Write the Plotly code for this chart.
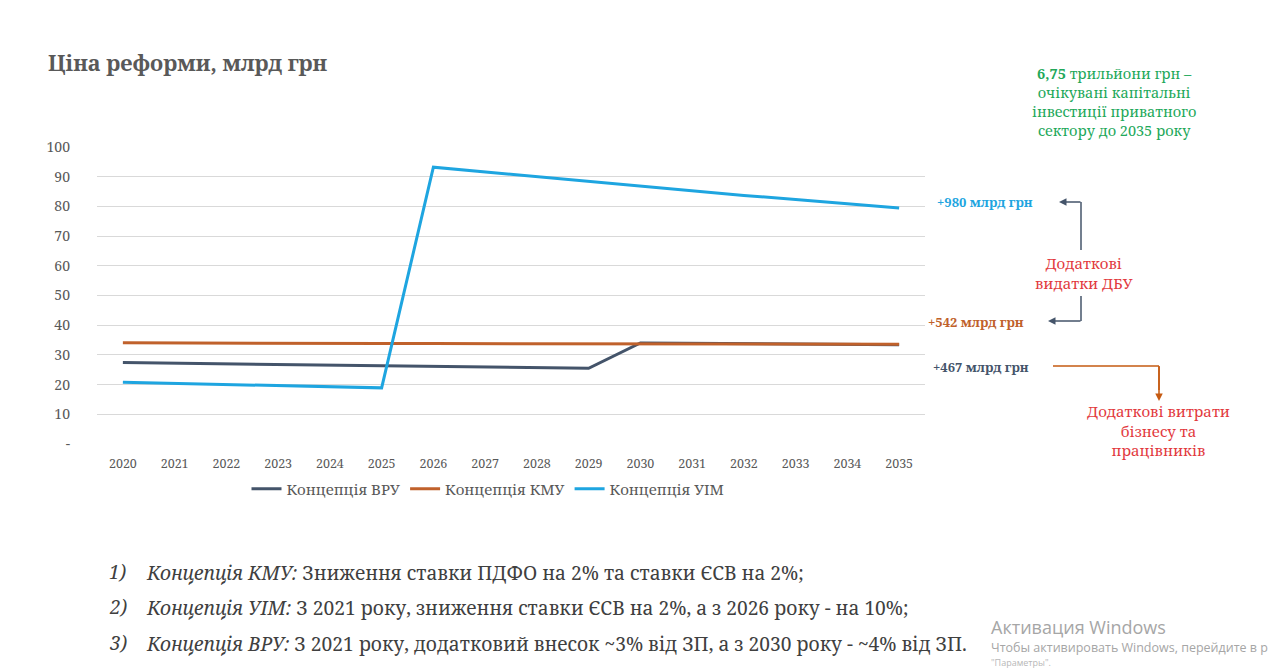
import plotly.graph_objects as go

years = [str(y) for y in range(2020, 2036)]
vru = [27.4, 27.2, 27.0, 26.8, 26.5, 26.3, 26.1, 25.9, 25.7, 25.5, 34.0, 33.9, 33.8, 33.6, 33.5, 33.4]
kmu = [34.1, 34.0, 34.0, 33.9, 33.9, 33.8, 33.8, 33.8, 33.7, 33.7, 33.7, 33.7, 33.6, 33.6, 33.6, 33.6]
uim = [20.8, 20.4, 20.0, 19.6, 19.3, 18.9, 93.2, 91.6, 90.0, 88.4, 86.9, 85.3, 83.7, 82.3, 80.9, 79.5]
series_names = ["Концепція ВРУ", "Концепція КМУ", "Концепція УІМ"]
y_tickvals = [0, 10, 20, 30, 40, 50, 60, 70, 80, 90, 100]
y_ticktext = ["-", "10", "20", "30", "40", "50", "60", "70", "80", "90", "100"]

C_VRU = "#44546A"
C_KMU = "#C0612B"
C_UIM = "#1EA5E0"
GRAY = "#595959"
RED = "#E23A3E"
GREEN = "#22A85A"
FONT = "Noto Serif"

OFF = 8  # page body margin
L, R, T, B = 97, 925, 147, 444  # plot area in screenshot pixels
W, H = 1280, 669


def px(x):
    return (x - L) / (R - L)


def py(y):
    return (B - y) / (B - T)


fig = go.Figure()
for name, vals, col in [(series_names[0], vru, C_VRU), (series_names[1], kmu, C_KMU), (series_names[2], uim, C_UIM)]:
    fig.add_trace(go.Scatter(x=years, y=vals, mode="lines", name=name,
                             line=dict(color=col, width=3)))

ann = []
ann.append(dict(x=px(46), y=py(62), xref="paper", yref="paper", xanchor="left", yanchor="middle",
                text="<b>Ціна реформи, млрд грн</b>", showarrow=False,
                font=dict(family=FONT, size=21.7, color=GRAY)))
ann.append(dict(x=px(1114), y=py(101), xref="paper", yref="paper", xanchor="center", yanchor="middle",
                text="<b>6,75</b> трильйони грн –<br>очікувані капітальні<br>інвестиції приватного<br>сектору до 2035 року",
                showarrow=False, align="center",
                font=dict(family=FONT, size=14.5, color=GREEN)))
ann.append(dict(x=px(935), y=py(202), xref="paper", yref="paper", xanchor="left", yanchor="middle",
                text="<b>+980 млрд грн</b>", showarrow=False,
                font=dict(family=FONT, size=13, color=C_UIM)))
ann.append(dict(x=px(926), y=py(322), xref="paper", yref="paper", xanchor="left", yanchor="middle",
                text="<b>+542 млрд грн</b>", showarrow=False,
                font=dict(family=FONT, size=13, color=C_KMU)))
ann.append(dict(x=px(931), y=py(367), xref="paper", yref="paper", xanchor="left", yanchor="middle",
                text="<b>+467 млрд грн</b>", showarrow=False,
                font=dict(family=FONT, size=13, color=C_VRU)))
ann.append(dict(x=px(1084), y=py(273), xref="paper", yref="paper", xanchor="center", yanchor="middle",
                text="Додаткові<br>видатки ДБУ", showarrow=False, align="center",
                font=dict(family=FONT, size=15, color=RED)))
ann.append(dict(x=px(1158), y=py(430), xref="paper", yref="paper", xanchor="center", yanchor="middle",
                text="Додаткові витрати<br>бізнесу та<br>працівників", showarrow=False, align="center",
                font=dict(family=FONT, size=15, color=RED)))
ann.append(dict(x=px(1059), y=py(202), xref="paper", yref="paper", ax=23, ay=0, axref="pixel", ayref="pixel",
                text="", showarrow=True, arrowhead=2, arrowsize=1, arrowwidth=1.5, arrowcolor=C_VRU))
ann.append(dict(x=px(1048), y=py(321), xref="paper", yref="paper", ax=34, ay=0, axref="pixel", ayref="pixel",
                text="", showarrow=True, arrowhead=2, arrowsize=1, arrowwidth=1.5, arrowcolor=C_VRU))
ann.append(dict(x=px(1159), y=py(401), xref="paper", yref="paper", ax=0, ay=-36, axref="pixel", ayref="pixel",
                text="", showarrow=True, arrowhead=2, arrowsize=1, arrowwidth=1.5, arrowcolor="#C55A11"))
notes = [
    (572, "1)", "<i>Концепція КМУ:</i> Зниження ставки ПДФО на 2% та ставки ЄСВ на 2%;"),
    (607, "2)", "<i>Концепція УІМ:</i> З 2021 року, зниження ставки ЄСВ на 2%, а з 2026 року - на 10%;"),
    (643, "3)", "<i>Концепція ВРУ:</i> З 2021 року, додатковий внесок ~3% від ЗП, а з 2030 року - ~4% від ЗП."),
]
for yy, num, txt in notes:
    ann.append(dict(x=px(107), y=py(yy), xref="paper", yref="paper", xanchor="left", yanchor="middle",
                    text="<i>" + num + "</i>", showarrow=False,
                    font=dict(family=FONT, size=19, color="#404040")))
    ann.append(dict(x=px(144), y=py(yy), xref="paper", yref="paper", xanchor="left", yanchor="middle",
                    text=txt, showarrow=False,
                    font=dict(family=FONT, size=19.2, color="#404040")))
ann.append(dict(x=px(989), y=py(627), xref="paper", yref="paper", xanchor="left", yanchor="middle",
                text="Активация Windows", showarrow=False,
                font=dict(family="Open Sans", size=18, color="#A6A6A6")))
ann.append(dict(x=px(989), y=py(647), xref="paper", yref="paper", xanchor="left", yanchor="middle",
                text="Чтобы активировать Windows, перейдите в р", showarrow=False,
                font=dict(family="Open Sans", size=12.5, color="#A6A6A6")))
ann.append(dict(x=px(989), y=py(662), xref="paper", yref="paper", xanchor="left", yanchor="middle",
                text="\"Параметры\".", showarrow=False,
                font=dict(family="Open Sans", size=9, color="#B8B8B8")))

shapes = [
    dict(type="line", xref="paper", yref="paper", x0=px(1081), x1=px(1081), y0=py(202), y1=py(250),
         line=dict(color=C_VRU, width=1.5)),
    dict(type="line", xref="paper", yref="paper", x0=px(1081), x1=px(1081), y0=py(296), y1=py(321),
         line=dict(color=C_VRU, width=1.5)),
    dict(type="line", xref="paper", yref="paper", x0=px(1053), x1=px(1159), y0=py(366), y1=py(366),
         line=dict(color="#C55A11", width=1.5)),
    dict(type="line", xref="paper", yref="paper", x0=px(1159), x1=px(1159), y0=py(366), y1=py(390),
         line=dict(color="#C55A11", width=1.5)),
    dict(type="rect", xref="paper", yref="paper", x0=px(1274), x1=px(1290), y0=py(-10), y1=py(680),
         fillcolor="#EDEDED", line=dict(width=0), layer="below"),
]

fig.update_layout(
    width=W, height=H,
    margin=dict(l=L - OFF, r=W - R + OFF, t=T - OFF, b=H - B + OFF, pad=0),
    paper_bgcolor="white", plot_bgcolor="white",
    showlegend=True,
    legend=dict(orientation="h", x=px(488), y=py(489), xanchor="center", yanchor="middle",
                font=dict(family=FONT, size=15, color=GRAY), itemwidth=30, tracegroupgap=0,
                bgcolor="rgba(0,0,0,0)"),
    xaxis=dict(type="category", range=[-0.5, 15.5], showgrid=False, showline=False, zeroline=False,
               ticks="", tickfont=dict(family=FONT, size=12.5, color=GRAY), ticklabelstandoff=10,
               fixedrange=True),
    yaxis=dict(range=[0, 100], tickvals=y_tickvals, ticktext=y_ticktext, showgrid=True,
               gridcolor="#D9D9D9", gridwidth=1.3, zeroline=False, showline=False, ticks="",
               tickfont=dict(family=FONT, size=14, color=GRAY), ticklabelstandoff=26, fixedrange=True),
    annotations=ann,
    shapes=shapes,
)

fig.write_html("out.html")
